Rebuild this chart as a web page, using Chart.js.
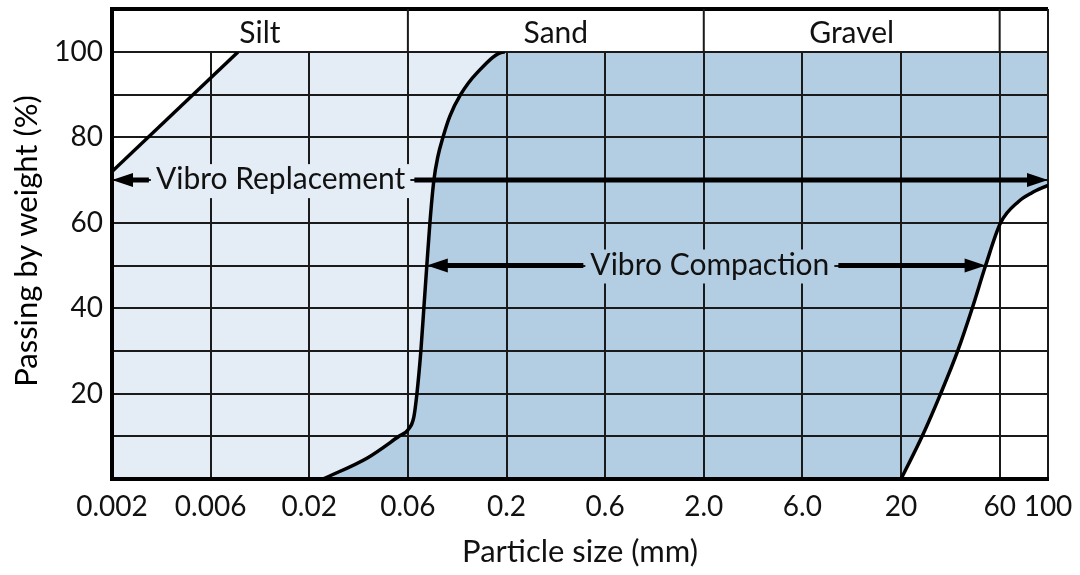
<!DOCTYPE html>
<html>
<head>
<meta charset="utf-8">
<script src="https://cdn.jsdelivr.net/npm/chart.js@4.4.1/dist/chart.umd.min.js"></script>
<style>
  html, body { margin: 0; padding: 0; background: #fff; }
  #wrap { width: 1080px; height: 575px; }
</style>
</head>
<body>
<div id="wrap"><canvas id="grading"></canvas></div>
<script>
// particle sizes on the x axis (mm) and the grid slot each one sits on
const sizeTicks = [0.002, 0.006, 0.02, 0.06, 0.2, 0.6, 2.0, 6.0, 20, 60, 100];
const sizeTickLabels = ['0.002', '0.006', '0.02', '0.06', '0.2', '0.6', '2.0', '6.0', '20', '60', '100'];
const sizeTickSlots = [0, 1, 2, 3, 4, 5, 6, 7, 8, 9, 9.49];
const percentLabels = [20, 40, 60, 80, 100];

// soil classes in the top band
const bandNames = ['Silt', 'Sand', 'Gravel', ''];
const bandEdges = [0.002, 0.06, 2.0, 60, 100];

// grading curves, size (mm) against passing (%)
const siltSize = [0.002, 0.00838, 100];
const siltPass = [72, 100, 100];
const sandSize = [0.0233, 0.0384, 0.0543, 0.06, 0.0645, 0.067, 0.0703, 0.0729, 0.0756, 0.0785, 0.0824, 0.0865, 0.092, 0.1002, 0.1141, 0.1387, 0.196, 100];
const sandPass = [0, 5, 10, 11.5, 14.5, 20, 30, 40, 50, 60, 70, 75.5, 80, 85, 90, 95, 100, 100];
const gravelSize = [20, 25.3, 31.1, 37.6, 44.2, 51.3, 60.6, 73.3, 84.1, 100];
const gravelPass = [0, 10, 20, 30, 40, 50, 60, 65, 67, 68.8];

// ranges of the two methods
const rangeNames = ['Vibro Replacement', 'Vibro Compaction'];
const rangeFrom = [0.002, 0.0756];
const rangeTo = [100, 51.3];
const rangeLevel = [70, 50];

const LIGHT = '#e4ecf5';
const DARK = '#b3cde3';
const INK = '#111';

// log steps between the ticks, one grid cell each
function slotOf(mm) {
  const n = sizeTicks.length - 1;
  for (let i = 0; i < n; i++) {
    if (mm <= sizeTicks[i + 1] || i === n - 1) {
      const f = Math.log(mm / sizeTicks[i]) / Math.log(sizeTicks[i + 1] / sizeTicks[i]);
      return sizeTickSlots[i] + f * (sizeTickSlots[i + 1] - sizeTickSlots[i]);
    }
  }
}
const pts = (xs, ys) => xs.map((v, i) => ({ x: slotOf(v), y: ys[i] }));

// no stroke where a curve just runs along the 100 % line
const topRun = ctx => (ctx.p0.parsed.y >= 100 && ctx.p1.parsed.y >= 100) ? 'rgba(0,0,0,0)' : '#000';

const area = (data, color, smooth) => ({
  data, backgroundColor: color, fill: 'start', borderWidth: 0,
  cubicInterpolationMode: smooth ? 'monotone' : 'default', tension: 0, pointRadius: 0
});
const curve = (data, smooth) => ({
  data, borderColor: '#000', borderWidth: 3.5, fill: false,
  cubicInterpolationMode: smooth ? 'monotone' : 'default', tension: 0, pointRadius: 0,
  segment: { borderColor: topRun }
});

const overlay = {
  id: 'overlay',
  afterDraw(chart, args, opts) {
    const { ctx, chartArea: a, scales: { x, y } } = chart;
    const px = mm => x.getPixelForValue(slotOf(mm));
    const bandTop = a.top - 43;

    ctx.save();
    // band above the plot
    ctx.strokeStyle = '#000';
    ctx.lineWidth = 4;
    ctx.beginPath();
    ctx.moveTo(a.left, a.top);
    ctx.lineTo(a.left, bandTop);
    ctx.lineTo(a.right, bandTop);
    ctx.stroke();
    ctx.strokeStyle = '#1a1a1a';
    ctx.lineWidth = 2;
    ctx.beginPath();
    bandEdges.slice(1).forEach(e => {
      ctx.moveTo(px(e), bandTop);
      ctx.lineTo(px(e), a.top);
    });
    ctx.stroke();
    ctx.fillStyle = INK;
    ctx.font = opts.labelFont;
    ctx.textAlign = 'center';
    ctx.textBaseline = 'alphabetic';
    bandNames.forEach((name, i) => {
      ctx.fillText(name, (px(bandEdges[i]) + px(bandEdges[i + 1])) / 2, a.top - 9);
    });

    // range arrows with their labels
    rangeNames.forEach((name, i) => {
      const yy = y.getPixelForValue(rangeLevel[i]);
      const x0 = px(rangeFrom[i]);
      const x1 = px(rangeTo[i]);
      const cx = px(opts.labelAt[i]);
      const w = ctx.measureText(name).width;
      const l = cx - w / 2, r = cx + w / 2;
      ctx.fillStyle = opts.labelFill[i];
      ctx.fillRect(l - 5, yy - 16, w + 10, 34);
      ctx.fillStyle = INK;
      ctx.fillText(name, cx, yy + 9);

      ctx.strokeStyle = '#000';
      ctx.lineWidth = 5;
      ctx.beginPath();
      ctx.moveTo(x0 + 12, yy);
      ctx.lineTo(l - 7, yy);
      ctx.moveTo(r + 9, yy);
      ctx.lineTo(x1 - 12, yy);
      ctx.stroke();
      ctx.fillStyle = '#000';
      [[x0, 1], [x1, -1]].forEach(([tip, dir]) => {
        ctx.beginPath();
        ctx.moveTo(tip, yy);
        ctx.lineTo(tip + dir * 21, yy - 7);
        ctx.lineTo(tip + dir * 21, yy + 7);
        ctx.closePath();
        ctx.fill();
      });
    });

    // y axis title
    ctx.translate(27, opts.yTitleAt);
    ctx.rotate(-Math.PI / 2);
    ctx.font = opts.titleFont;
    ctx.textBaseline = 'middle';
    ctx.fillText('Passing by weight (%)', 0, 0);
    ctx.restore();
  }
};

Chart.defaults.font.family = 'Lato';
Chart.defaults.color = INK;

new Chart(document.getElementById('grading'), {
  type: 'line',
  data: {
    // fills first (the filler paints them last-to-first, behind the grid)
    datasets: [
      area(pts(gravelSize, gravelPass), '#fff', true),
      area(pts(sandSize, sandPass), DARK, true),
      area(pts(siltSize, siltPass), LIGHT, false),
      curve(pts(gravelSize, gravelPass), true),
      curve(pts(sandSize, sandPass), true),
      curve(pts(siltSize, siltPass), false)
    ]
  },
  options: {
    responsive: true,
    maintainAspectRatio: false,
    animation: false,
    layout: { padding: { top: 52, right: 32, left: 0, bottom: 0 } },
    scales: {
      x: {
        type: 'linear',
        min: 0,
        max: sizeTickSlots[sizeTickSlots.length - 1],
        afterBuildTicks: s => { s.ticks = sizeTickSlots.map(v => ({ value: v })); },
        afterFit: s => { s.height = 96; s.paddingLeft = 0; s.paddingRight = 0; },
        grid: { color: '#1a1a1a', lineWidth: 2, drawTicks: false },
        border: { color: '#000', width: 4 },
        ticks: {
          autoSkip: false,
          maxRotation: 0,
          padding: 11,
          font: { size: 28 },
          callback: (v, i) => sizeTickLabels[i]
        },
        title: {
          display: true,
          text: 'Particle size (mm)',
          font: { size: 31 },
          padding: { top: 0, bottom: 4 }
        }
      },
      y: {
        min: 0,
        max: 100,
        afterFit: s => { s.width = 112; },
        grid: { color: '#1a1a1a', lineWidth: 2, drawTicks: false },
        border: { color: '#000', width: 4 },
        ticks: {
          stepSize: 10,
          padding: 9,
          font: { size: 28 },
          callback: v => percentLabels.includes(v) ? String(v) : ''
        }
      }
    },
    plugins: {
      legend: { display: false },
      tooltip: { enabled: false },
      filler: { drawTime: 'beforeDraw' },
      overlay: {
        labelFont: '30px Lato',
        titleFont: '31px Lato',
        labelAt: [0.0141, 2.14],
        labelFill: [LIGHT, DARK],
        yTitleAt: 241
      }
    }
  },
  plugins: [overlay]
});
</script>
</body>
</html>
